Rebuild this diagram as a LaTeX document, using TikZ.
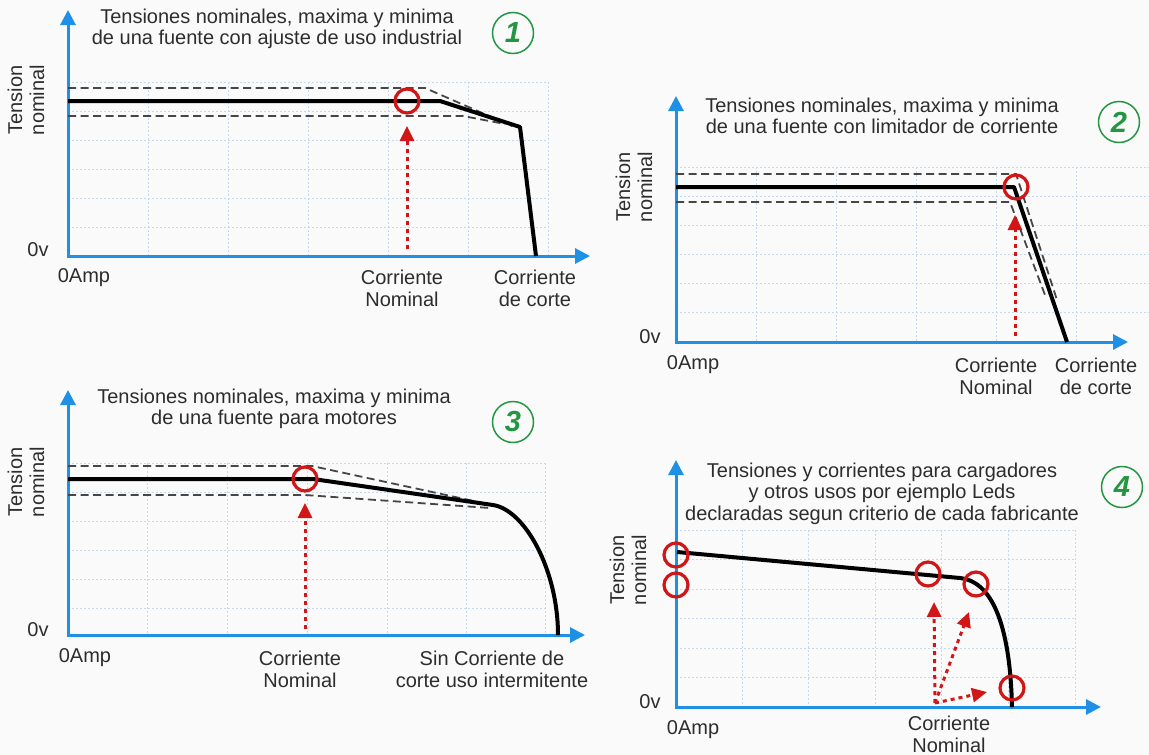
\documentclass[tikz,border=0pt]{standalone}
\usepackage{fontspec}
\setmainfont{Liberation Sans}
\usetikzlibrary{arrows.meta}
\definecolor{axisblue}{RGB}{30,144,230}
\definecolor{gridblue}{RGB}{196,216,238}
\definecolor{txt}{RGB}{45,45,45}
\definecolor{redc}{RGB}{208,22,22}
\definecolor{greenc}{RGB}{36,150,66}
\definecolor{dashgray}{RGB}{70,70,70}
\definecolor{bg}{RGB}{250,250,250}
\begin{document}
\begin{tikzpicture}[x=1pt,y=-1pt,
  axis/.style={draw=axisblue, line width=3pt, line join=miter,
    {Triangle[width=15pt,length=15pt]}-{Triangle[width=15pt,length=15pt]}},
  gridln/.style={draw=gridblue, line width=1pt, dash pattern=on 2pt off 2pt},
  curve/.style={draw=black, line width=4pt, line join=round},
  limit/.style={draw=dashgray, line width=1.8pt, dash pattern=on 8pt off 4.5pt},
  ring/.style={circle, draw=redc, line width=3.2pt, minimum size=24pt, inner sep=0pt},
  redarrow/.style={draw=redc, line width=3pt, dash pattern=on 4pt off 4pt,
    -{Triangle[width=14pt,length=15pt]}},
  lbl/.style={font=\fontsize{20}{22}\selectfont, text=txt, align=center, inner sep=0pt},
  title/.style={lbl, font=\fontsize{20}{21.5}\selectfont},
  numc/.style={circle, draw=greenc, line width=1.5pt, minimum size=41pt, inner sep=0pt,
    text=greenc, font=\fontsize{29}{29}\selectfont\bfseries\itshape}
]
\useasboundingbox (0,0) rectangle (1149,755);
\fill[bg] (0,0) rectangle (1149,755);

% ---------------- grids ----------------
\foreach \x in {148,228,308,388,468,548} \draw[gridln] (\x,82) -- (\x,256);
\foreach \y in {82,111,140,169,198,227} \draw[gridln] (68,\y) -- (548,\y);
\foreach \x in {756,836,916,996,1076} \draw[gridln] (\x,167) -- (\x,342);
\foreach \y in {167,196,225,254,283,312} \draw[gridln] (676,\y) -- (1149,\y);
\foreach \x in {147,227,307,387,466,545} \draw[gridln] (\x,463) -- (\x,635);
\foreach \y in {463,492,521,550,579,608} \draw[gridln] (68,\y) -- (545,\y);
\foreach \x in {742,808,875,941,1008,1075} \draw[gridln] (\x,530) -- (\x,707);
\foreach \y in {530,559.5,589,618.5,648,677.5} \draw[gridln] (676,\y) -- (1075,\y);

% ---------------- axes ----------------
\coordinate (o1) at (68,256);  \coordinate (y1) at (68,10);  \coordinate (x1) at (590,256);
\coordinate (o2) at (676,342); \coordinate (y2) at (676,96); \coordinate (x2) at (1128,342);
\coordinate (o3) at (68,635);  \coordinate (y3) at (68,390); \coordinate (x3) at (585,635);
\coordinate (o4) at (676,707); \coordinate (y4) at (676,460); \coordinate (x4) at (1101,707);
\draw[axis] (y1) -- (o1) -- (x1);
\draw[axis] (y2) -- (o2) -- (x2);
\draw[axis] (y3) -- (o3) -- (x3);
\draw[axis] (y4) -- (o4) -- (x4);

% ---------------- panel 1 ----------------
\node[title] (t1) at (277,29) {Tensiones nominales, maxima y minima\\de una fuente con ajuste de uso industrial};
\node[numc] (n1) at (513,33) {1};
\node[lbl, rotate=90] (v1) at (26,100) {Tension\\nominal};
\node[lbl] (z1) at (38,250) {0v};
\node[lbl] (a1) at (84,278) {0Amp};
\node[lbl] (cn1) at (402,288.5) {Corriente\\Nominal};
\node[lbl] (cc1) at (535,288.5) {Corriente\\de corte};
\draw[limit] (68,88) -- (425,88) -- (512,126);
\draw[limit] (68,116) -- (463,116) -- (505,124);
\draw[curve] (68,101) -- (440,101) -- (520,127) -- (536,256);
\node[ring] (r1) at (407,101) {};
\coordinate (p1s) at (407,249); \coordinate (p1e) at (407,126);
\draw[redarrow] (p1s) -- (p1e);

% ---------------- panel 2 ----------------
\node[title] (t2) at (882,116) {Tensiones nominales, maxima y minima\\de una fuente con limitador de corriente};
\node[numc] (n2) at (1119,122) {2};
\node[lbl, rotate=90] (v2) at (634,187) {Tension\\nominal};
\node[lbl] (z2) at (650,337) {0v};
\node[lbl] (a2) at (693,365) {0Amp};
\node[lbl] (cn2) at (996,376) {Corriente\\Nominal};
\node[lbl] (cc2) at (1096,376) {Corriente\\de corte};
\draw[limit] (676,174) -- (1016,174) -- (1057,300);
\draw[limit] (676,202) -- (1010,202) -- (1045,295);
\draw[curve] (676,187) -- (1014,187) -- (1067,342);
\node[ring] (r2) at (1016,187) {};
\coordinate (p2s) at (1015,336); \coordinate (p2e) at (1015,215);
\draw[redarrow] (p2s) -- (p2e);

% ---------------- panel 3 ----------------
\node[title] (t3) at (274,409) {Tensiones nominales, maxima y minima\\de una fuente para motores};
\node[numc] (n3) at (513,422) {3};
\node[lbl, rotate=90] (v3) at (26,482) {Tension\\nominal};
\node[lbl] (z3) at (38,630) {0v};
\node[lbl] (a3) at (85,658) {0Amp};
\node[lbl] (cn3) at (300,669) {Corriente\\Nominal};
\node[lbl] (cc3) at (492,669) {Sin Corriente de\\corte uso intermitente};
\draw[limit] (68,466) -- (312,466) -- (483,503);
\draw[limit] (68,495) -- (305,495) -- (490,508);
\draw[curve] (68,479) -- (313,479) -- (493,505) .. controls (525,510) and (558,570) .. (558,635);
\node[ring] (r3) at (305,479) {};
\coordinate (p3s) at (305,629); \coordinate (p3e) at (305,503);
\draw[redarrow] (p3s) -- (p3e);

% ---------------- panel 4 ----------------
\node[title] (t4) at (882,493.5) {Tensiones y corrientes para cargadores\\y otros usos por ejemplo Leds\\declaradas segun criterio de cada fabricante};
\node[numc] (n4) at (1122,487) {4};
\node[lbl, rotate=90] (v4) at (628,570) {Tension\\nominal};
\node[lbl] (z4) at (650,702) {0v};
\node[lbl] (a4) at (693,730) {0Amp};
\node[lbl] (cn4) at (949,734) {Corriente\\Nominal};
\draw[curve] (677,552) -- (960,578) .. controls (990,581) and (1010,620) .. (1012,707);
\node[ring] (r4a) at (676,555) {};
\node[ring] (r4b) at (676,585) {};
\node[ring] (r4c) at (928,574) {};
\node[ring] (r4d) at (976,584) {};
\node[ring] (r4e) at (1012,688) {};
\coordinate (p4s) at (935,703);
\coordinate (p4a) at (934,602);
\coordinate (p4b) at (969,612);
\coordinate (p4c) at (987,692);
\draw[redarrow] (p4s) -- (p4a);
\draw[redarrow] (p4s) -- (p4b);
\draw[redarrow] (p4s) -- (p4c);
\end{tikzpicture}
\end{document}
